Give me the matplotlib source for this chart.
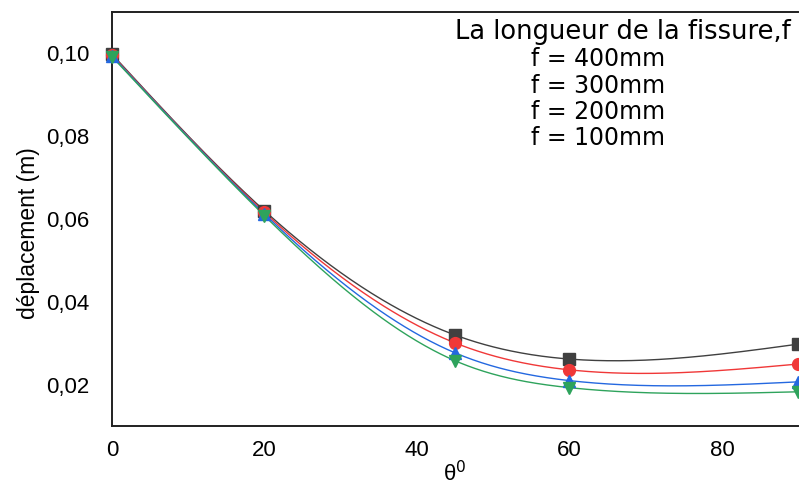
import numpy as np
import matplotlib
matplotlib.use('Agg')
import matplotlib.pyplot as plt
from matplotlib.lines import Line2D

# ── data ──────────────────────────────────────────────────────────────────────
theta = [0, 20, 45, 60, 90]

f400 = [0.0998, 0.0620, 0.0320, 0.0262, 0.0298]
f300 = [0.0996, 0.0616, 0.0301, 0.0236, 0.0250]
f200 = [0.0994, 0.0612, 0.0277, 0.0210, 0.0207]
f100 = [0.0992, 0.0608, 0.0258, 0.0193, 0.0183]

labels = ["f = 400mm", "f = 300mm", "f = 200mm", "f = 100mm"]
colors = ['#404040', '#f03838', '#2468e0', '#2ea35c']
markers = ['s', 'o', '^', 'v']


def natural_spline(x, y, xs):
    """Natural cubic spline through (x, y), evaluated at xs."""
    x = np.asarray(x, float)
    y = np.asarray(y, float)
    n = len(x)
    h = np.diff(x)
    A = np.zeros((n, n))
    b = np.zeros(n)
    A[0, 0] = A[-1, -1] = 1.0
    for i in range(1, n - 1):
        A[i, i - 1] = h[i - 1]
        A[i, i] = 2 * (h[i - 1] + h[i])
        A[i, i + 1] = h[i]
        b[i] = 6 * ((y[i + 1] - y[i]) / h[i] - (y[i] - y[i - 1]) / h[i - 1])
    M = np.linalg.solve(A, b)
    k = np.clip(np.searchsorted(x, xs) - 1, 0, n - 2)
    t1 = x[k + 1] - xs
    t0 = xs - x[k]
    hk = h[k]
    return (M[k] * t1 ** 3 / (6 * hk) + M[k + 1] * t0 ** 3 / (6 * hk)
            + (y[k] / hk - M[k] * hk / 6) * t1
            + (y[k + 1] / hk - M[k + 1] * hk / 6) * t0)


# ── plot ──────────────────────────────────────────────────────────────────────
plt.rcParams['font.family'] = ['Liberation Sans', 'DejaVu Sans']

fig = plt.figure(figsize=(7.99, 4.91), dpi=100)
ax = fig.add_axes([0.140, 0.132, 0.859, 0.844])

xs = np.linspace(0, 90, 400)
for ys, c, m in zip([f400, f300, f200, f100], colors, markers):
    ax.plot(xs, natural_spline(theta, ys, xs), color=c, linewidth=1.0, zorder=2)
    ax.plot(theta, ys, linestyle='none', marker=m, color=c,
            markersize=8.5, zorder=3, clip_on=False)

ax.set_xlim(0, 90)
ax.set_ylim(0.01, 0.11)
ax.set_xticks([0, 20, 40, 60, 80])
ax.set_yticks([0.02, 0.04, 0.06, 0.08, 0.10])
ax.set_yticklabels(["0,02", "0,04", "0,06", "0,08", "0,10"])
ax.tick_params(length=0, labelsize=16)
ax.tick_params(axis='y', pad=16)
ax.tick_params(axis='x', pad=10)

ax.spines['right'].set_visible(False)
for s in ['left', 'bottom', 'top']:
    ax.spines[s].set_linewidth(1.4)
    ax.spines[s].set_color('#202020')

ax.set_xlabel('θ$^0$', fontsize=16, labelpad=0)
ax.set_ylabel('déplacement (m)', fontsize=16.5)
ax.yaxis.set_label_coords(-0.105, 0.465)

handles = [Line2D([], [], linestyle='none') for _ in labels]
leg = ax.legend(handles, labels, title='La longueur de la fissure,f',
                loc='upper right', bbox_to_anchor=(1.0, 1.0),
                frameon=False, handlelength=2.8, handletextpad=0.4,
                alignment='left', labelspacing=0.1,
                prop={'family': 'DejaVu Sans', 'size': 17},
                title_fontproperties={'family': 'DejaVu Sans', 'size': 18.5},
                borderaxespad=0.1, borderpad=0.2)

fig.savefig('out.png', dpi=100)
